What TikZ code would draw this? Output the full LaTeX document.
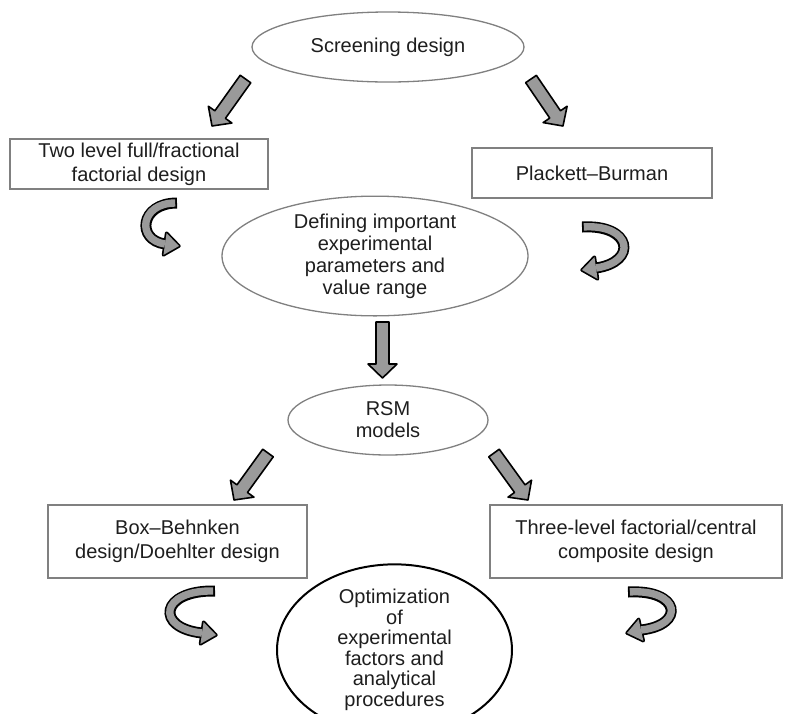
\documentclass[tikz,border=0pt]{standalone}
\usepackage{fontspec}
\setmainfont{Liberation Sans}
\usetikzlibrary{shapes.geometric,calc}
\definecolor{arrowgray}{HTML}{9A9A9A}
\definecolor{edgegray}{HTML}{808080}
\definecolor{txt}{HTML}{1E1E1E}

% straight block arrow between two named coordinates
\newcommand\blockarr[2]{%
  \pgfpointdiff{\pgfpointanchor{#1}{center}}{\pgfpointanchor{#2}{center}}%
  \pgfgetlastxy{\bdx}{\bdy}%
  \pgfmathsetmacro\bang{atan2(\bdy,\bdx)}%
  \pgfmathsetmacro\blen{veclen(\bdx,\bdy)}%
  \pgfmathsetmacro\bhb{\blen-14}%
  \begin{scope}[shift={(#1)},rotate=\bang]
    \draw[blockarrow] (0pt,-6.5pt) -- (\bhb pt,-6.5pt) -- (\bhb pt,-14.5pt) -- (\blen pt,0pt)
      -- (\bhb pt,14.5pt) -- (\bhb pt,6.5pt) -- (0pt,6.5pt) -- cycle;
  \end{scope}}

% curved ribbon arrow: tail, control 1, control 2, head base, head tip
\newcommand\curvarr[5]{%
  \draw[line width=3.4pt, black, line join=round]
    ($(#4)!11pt!90:(#5)$) -- (#5) -- ($(#4)!11pt!-90:(#5)$) -- cycle;
  \draw[line width=11pt, black] (#1) .. controls (#2) and (#3) .. (#4);
  \draw[line width=7.4pt, arrowgray, shorten <=1.8pt] (#1) .. controls (#2) and (#3) .. (#4);
  \fill[arrowgray] ($(#4)!11pt!90:(#5)$) -- (#5) -- ($(#4)!11pt!-90:(#5)$) -- cycle;}

\begin{document}
\begin{tikzpicture}[x=1pt,y=-1pt,
  ov/.style={ellipse, draw=edgegray, line width=1.3pt, inner sep=0pt, align=center,
    text=txt, font=\fontsize{20}{22}\selectfont},
  bx/.style={rectangle, draw=edgegray, line width=1.8pt, inner sep=0pt, align=center,
    text=txt, font=\fontsize{20}{24}\selectfont},
  blockarrow/.style={draw=black, fill=arrowgray, line width=1.6pt, line join=round}]
\useasboundingbox (0,0) rectangle (803,713);
\clip (0,0) rectangle (803,713);
\fill[white] (0,0) rectangle (803,713);

% nodes
\node[ov, minimum width=272pt, minimum height=70pt] (screen) at (388,47) {Screening design};
\node[bx, minimum width=258pt, minimum height=50pt] (twolevel) at (139,164)
  {Two level full/fractional\\factorial design};
\node[bx, minimum width=240pt, minimum height=50pt] (pb) at (592,173) {Plackett–Burman};
\node[ov, minimum width=306pt, minimum height=118pt] (define) at (375,256)
  {Defining important\\experimental\\parameters and\\value range};
\node[ov, minimum width=200pt, minimum height=70pt] (rsm) at (388,420) {RSM\\models};
\node[bx, minimum width=259pt, minimum height=73pt] (bbd) at (177.5,541.5)
  {Box–Behnken\\design/Doehlter design};
\node[bx, minimum width=292pt, minimum height=73pt] (tlf) at (636,541.5)
  {Three-level factorial/central\\composite design};
\node[ov, draw=black, line width=2pt, minimum width=235pt, minimum height=166pt,
  font=\fontsize{20}{20.5}\selectfont] (opt) at (394.5,650)
  {Optimization\\of\\experimental\\factors and\\analytical\\procedures};

% straight arrows
\coordinate (a1s) at (245.5,79);  \coordinate (a1e) at (212,126);
\coordinate (a2s) at (531,79);    \coordinate (a2e) at (563,126);
\coordinate (a3s) at (382.5,322); \coordinate (a3e) at (382.5,378);
\coordinate (a4s) at (268,453);   \coordinate (a4e) at (234,500);
\coordinate (a5s) at (494,453);   \coordinate (a5e) at (528,500);
\blockarr{a1s}{a1e}
\blockarr{a2s}{a2e}
\blockarr{a3s}{a3e}
\blockarr{a4s}{a4e}
\blockarr{a5s}{a5e}

% curved arrows
\coordinate (c1t) at (177,203); \coordinate (c1a) at (140,203); \coordinate (c1b) at (136,240);
\coordinate (c1B) at (165,244); \coordinate (c1T) at (179,246);
\curvarr{c1t}{c1a}{c1b}{c1B}{c1T}
\coordinate (c2t) at (582,227); \coordinate (c2a) at (632,224); \coordinate (c2b) at (638,262);
\coordinate (c2B) at (596,268); \coordinate (c2T) at (582,270);
\curvarr{c2t}{c2a}{c2b}{c2B}{c2T}
\coordinate (c3t) at (215,591); \coordinate (c3a) at (160,590); \coordinate (c3b) at (155,628);
\coordinate (c3B) at (202,633); \coordinate (c3T) at (216,635);
\curvarr{c3t}{c3a}{c3b}{c3B}{c3T}
\coordinate (c4t) at (628,592); \coordinate (c4a) at (680,589); \coordinate (c4b) at (686,625);
\coordinate (c4B) at (641,630); \coordinate (c4T) at (627,633);
\curvarr{c4t}{c4a}{c4b}{c4B}{c4T}
\end{tikzpicture}
\end{document}
